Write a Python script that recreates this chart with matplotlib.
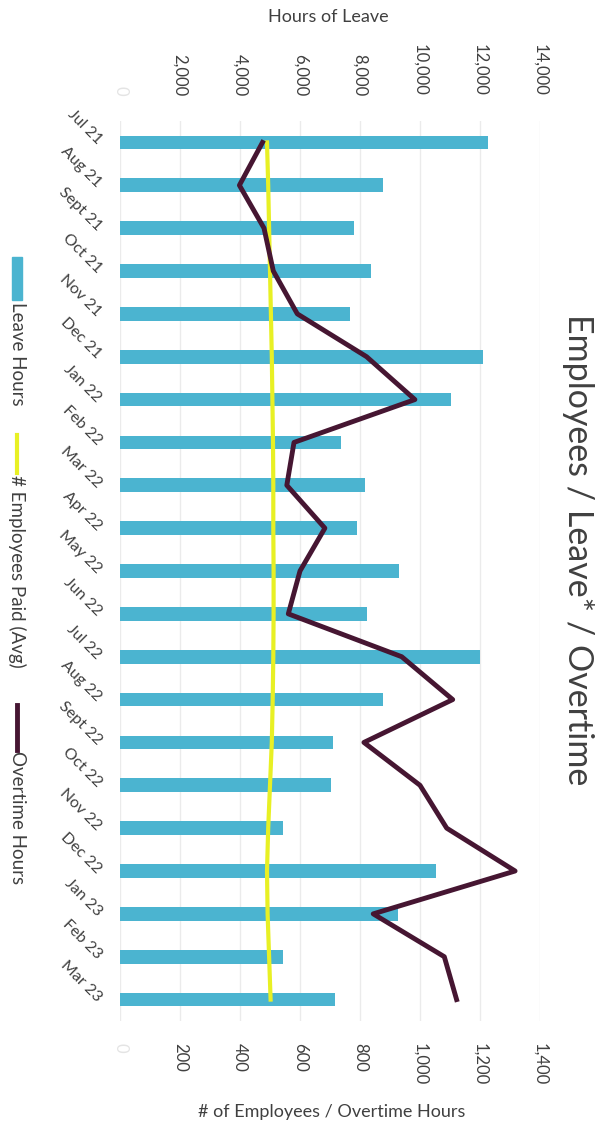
import matplotlib
matplotlib.use("Agg")
import matplotlib.pyplot as plt
from matplotlib.patches import Rectangle
from matplotlib.lines import Line2D

plt.rcParams['font.family'] = ['Lato', 'DejaVu Sans']

months = ["Jul 21", "Aug 21", "Sept 21", "Oct 21", "Nov 21", "Dec 21",
          "Jan 22", "Feb 22", "Mar 22", "Apr 22", "May 22", "Jun 22",
          "Jul 22", "Aug 22", "Sept 22", "Oct 22", "Nov 22", "Dec 22",
          "Jan 23", "Feb 23", "Mar 23"]
leave_hours = [12280, 8780, 7800, 8360, 7670, 12090,
               11020, 7360, 8180, 7910, 9310, 8220,
               12000, 8760, 7110, 7020, 5420, 10530,
               9280, 5440, 7170]
employees_paid = [490, 494, 497, 500, 503, 506,
                  508, 510, 511, 511, 512, 512,
                  511, 509, 506, 500, 494, 490,
                  492, 497, 502]
overtime_hours = [475, 398, 480, 511, 591, 822,
                  983, 580, 556, 683, 600, 561,
                  939, 1109, 813, 1000, 1089, 1317,
                  844, 1081, 1122]

leave_ticks = [0, 2000, 4000, 6000, 8000, 10000, 12000, 14000]
count_ticks = [0, 200, 400, 600, 800, 1000, 1200, 1400]

BLUE = "#4bb4d0"
YELLOW = "#e8f024"
PURPLE = "#461632"
TEXT = "#404040"

W, H = 603, 1130
fig = plt.figure(figsize=(W / 100, H / 100), dpi=100)


def fx(px):
    return px / W


def fy(py):
    return 1 - py / H


# plot area: leave hours along the top, counts along the bottom
ax = fig.add_axes([fx(120), fy(1021), fx(420), 900 / H])
ax2 = ax.twiny()

y = list(range(len(months)))
ax.barh(y, leave_hours, height=0.32, color=BLUE, zorder=2)
ax.set_xlim(0, 14000)
ax.set_ylim(len(months) - 0.5, -0.5)
ax.xaxis.set_ticks_position("top")
ax.set_xticks(leave_ticks)
ax.set_xticklabels([f"{v:,}" for v in leave_ticks], rotation=-90,
                   fontsize=12, color=TEXT)
ax.get_xticklabels()[0].set_color("#e4e4e4")
ax.tick_params(axis="x", length=0, pad=18)
ax.set_yticks(y)
ax.set_yticklabels(months, fontsize=11.5, color=TEXT, rotation=-45,
                   rotation_mode="anchor", ha="right", va="center")
ax.tick_params(axis="y", length=0, pad=15)
ax.grid(axis="x", color="#ebebeb", linewidth=1)
ax.set_axisbelow(True)
for s in ax.spines.values():
    s.set_visible(False)

ax2.plot(employees_paid, y, color=YELLOW, linewidth=3, zorder=3)
ax2.plot(overtime_hours, y, color=PURPLE, linewidth=3.5, zorder=4)
ax2.set_xlim(0, 1400)
ax2.xaxis.set_ticks_position("bottom")
ax2.set_xticks(count_ticks)
ax2.set_xticklabels([f"{v:,}" for v in count_ticks], rotation=-90,
                    fontsize=12, color=TEXT)
ax2.get_xticklabels()[0].set_color("#e4e4e4")
ax2.tick_params(axis="x", length=0, pad=16)
for s in ax2.spines.values():
    s.set_visible(False)

# axis titles and chart title
fig.text(fx(328), fy(17), "Hours of Leave", ha="center", va="center",
         fontsize=13, color=TEXT)
fig.text(fx(332), fy(1112), "# of Employees / Overtime Hours",
         ha="center", va="center", fontsize=13, color=TEXT)
fig.text(fx(578), fy(550), "Employees / Leave* / Overtime", rotation=-90,
         ha="center", va="center", fontsize=24.5, color=TEXT)

# legend down the left edge
fig.patches.append(Rectangle((fx(12), fy(300)), fx(10), 43 / H,
                             transform=fig.transFigure, color=BLUE))
fig.lines.append(Line2D([fx(17), fx(17)], [fy(435), fy(473)],
                        transform=fig.transFigure, color=YELLOW, linewidth=3))
fig.lines.append(Line2D([fx(17), fx(17)], [fy(705), fy(750)],
                        transform=fig.transFigure, color=PURPLE, linewidth=3.5))
for label, top in [("Leave Hours", 302), ("# Employees Paid (Avg)", 475),
                   ("Overtime Hours", 751)]:
    fig.text(fx(17), fy(top), label, rotation=-90, ha="center", va="top",
             fontsize=13.5, color=TEXT)

fig.savefig("out.png", dpi=100)
